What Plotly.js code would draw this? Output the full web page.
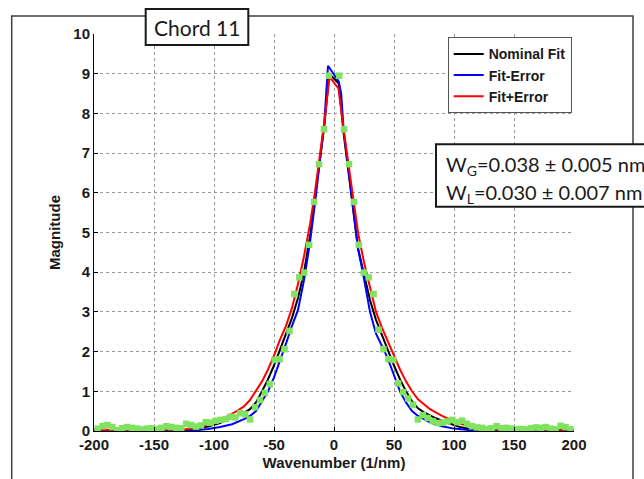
<!DOCTYPE html>
<html>
<head>
<meta charset="utf-8">
<script src="https://cdn.plot.ly/plotly-3.0.1.min.js"></script>
<style>html,body{margin:0;padding:0;background:#fff;}#chart{width:644px;height:479px;}</style>
</head>
<body>
<div id="chart"></div>
<script>
// Nominal fit (black)
const nomX = [-200,-160,-130,-115,-105,-95,-85,-75,-70,-65,-60,-55,-50,-45,-40,-35,-30,-25,-20,-16,-12,-8,-4,4,8,12,16,20,25,30,35,40,45,50,55,60,65,70,75,85,95,105,115,130,160,200];
const nomY = [0,0,0.01,0.05,0.11,0.2,0.32,0.46,0.55,0.72,1.0,1.3,1.65,2.05,2.45,2.85,3.35,4.0,4.9,5.8,6.8,7.7,9.0,8.75,7.5,6.5,5.5,4.6,3.95,3.3,2.8,2.4,2.05,1.65,1.3,1.0,0.75,0.57,0.47,0.32,0.2,0.1,0.04,0.01,0,0];
// Fit-Error (blue)
const lowX = [-200,-125,-115,-105,-95,-85,-75,-70,-65,-60,-55,-50,-45,-40,-35,-30,-25,-20,-16,-12,-8,-5,4,6,8,12,16,20,24,30,35,40,43,47,51,55,60,65,70,80,90,100,110,120,125,200];
const lowY = [0,0,0.02,0.05,0.1,0.17,0.3,0.38,0.5,0.75,1.0,1.35,1.75,2.2,2.65,3.05,3.8,4.75,5.7,6.75,7.8,9.2,8.8,8.5,7.6,6.6,5.6,4.6,4.0,3.0,2.45,2.15,1.95,1.65,1.3,1.0,0.72,0.5,0.38,0.22,0.12,0.06,0.03,0.01,0,0];
// Fit+Error (red)
const highX = [-200,-150,-125,-115,-110,-100,-90,-80,-75,-70,-65,-60,-55,-50,-45,-40,-35,-30,-25,-20,-16,-12,-8,-3.7,3.7,8,12,16,20,25,30,35,40,45,50,55,60,65,70,80,90,95,100,108,115,125,150,200];
const highY = [0.03,0.03,0.04,0.08,0.12,0.22,0.35,0.52,0.62,0.78,1.0,1.25,1.55,1.9,2.3,2.65,3.1,3.7,4.4,5.2,6.0,6.9,7.8,8.92,8.63,7.6,6.7,5.8,5.0,4.25,3.65,3.0,2.6,2.25,1.9,1.55,1.25,1.0,0.8,0.55,0.38,0.31,0.24,0.16,0.1,0.05,0.03,0.03];
// Measured data (green squares)
const dataX = [-197,-192.9,-188.8,-184.7,-180.6,-176.5,-172.4,-168.3,-164.2,-160.1,-156,-151.9,-147.8,-143.7,-139.6,-135.5,-131.4,-127.3,-123.2,-119.1,-115,-110.9,-106.8,-102.7,-98.6,-94.5,-90.4,-86.3,-82.2,-78.1,-74,-69.9,-65.8,-61.7,-57.6,-53.5,-49.4,-45.3,-41.2,-37.1,-33,-28.9,-24.8,-20.7,-16.6,-12.5,-8.4,-4.3,
  4.3,8.4,12.5,16.6,20.7,24.8,28.9,33,37.1,41.2,45.3,49.4,53.5,57.6,61.7,65.8,69.9,74,78.1,82.2,86.3,90.4,94.5,98.6,102.7,106.8,110.9,115,119.1,123.2,127.3,131.4,135.5,139.6,143.7,147.8,151.9,156,160.1,164.2,168.3,172.4,176.5,180.6,184.7,188.8,192.9,197];
const dataY = [0.06,0.12,0.15,0.10,0.02,0.07,0.10,0.08,0.06,0.04,0.06,0.07,0.05,0.08,0.12,0.10,0.08,0.07,0.18,0.15,0.11,0.14,0.22,0.21,0.26,0.28,0.30,0.36,0.34,0.45,0.42,0.29,0.60,0.78,0.96,1.18,1.79,1.81,2.06,2.52,3.45,3.87,3.99,4.69,5.77,6.72,7.60,8.95,
  8.95,7.60,6.72,5.77,4.69,3.99,3.87,3.45,2.55,2.06,1.81,1.79,1.20,0.98,0.82,0.66,0.29,0.40,0.33,0.25,0.20,0.21,0.24,0.28,0.22,0.26,0.18,0.12,0.09,0.08,0.05,0.07,0.12,0.07,0.08,0.06,0.04,0.05,0.04,0.07,0.09,0.08,0.10,0.06,0.04,0.13,0.10,0.04];

const seriesNames = ['Nominal Fit','Fit-Error','Fit+Error'];
const xTicks = [-200,-150,-100,-50,0,50,100,150,200];
const yTicks = [0,1,2,3,4,5,6,7,8,9,10];

const boldFont = {family:'Arial, "Liberation Sans", sans-serif', size:15, color:'#1a1a1a', weight:'bold'};

const traces = [
  {x:nomX, y:nomY, mode:'lines', name:seriesNames[0], line:{color:'#000000', width:2}},
  {x:lowX, y:lowY, mode:'lines', name:seriesNames[1], line:{color:'#0000ff', width:2}},
  {x:highX, y:highY, mode:'lines', name:seriesNames[2], line:{color:'#ff0000', width:2}},
  {x:dataX, y:dataY, mode:'markers', name:'Data', showlegend:false,
   marker:{symbol:'square', size:6.5, color:'#7fe35f', line:{width:0}}}
];

const px = v => (v - 94) / 480;
const py = v => (431 - v) / 397;

const layout = {
  width:644, height:479,
  margin:{l:94, r:70, t:34, b:48, pad:0},
  paper_bgcolor:'#ffffff', plot_bgcolor:'#ffffff',
  showlegend:true,
  legend:{x:px(447.7), y:py(37.3), xanchor:'left', yanchor:'top',
    bgcolor:'#ffffff', bordercolor:'#555555', borderwidth:1,
    font:{family:'Arial, "Liberation Sans", sans-serif', size:14, color:'#1a1a1a', weight:'bold'}},
  xaxis:{range:[-200,200], tickvals:xTicks, ticktext:xTicks.map(String), showline:true, linecolor:'#000', linewidth:1,
    ticks:'inside', ticklen:4, tickcolor:'#000', showgrid:true, gridcolor:'#9a9a9a', griddash:'dot', gridwidth:1,
    zeroline:false, tickfont:boldFont, fixedrange:true,
    title:{text:'Wavenumber (1/nm)', font:boldFont, standoff:5}},
  yaxis:{range:[0,10], tickvals:yTicks, ticktext:yTicks.map(String), showline:true, linecolor:'#000', linewidth:1,
    ticks:'inside', ticklen:4, tickcolor:'#000', showgrid:true, gridcolor:'#9a9a9a', griddash:'dot', gridwidth:1,
    zeroline:false, tickfont:boldFont, fixedrange:true,
    title:{text:'Magnitude', font:boldFont, standoff:9}},
  shapes:[
    {type:'rect', xref:'paper', yref:'paper', x0:px(11.7), x1:px(633), y0:py(490), y1:py(16),
     line:{color:'#404040', width:1.5}, fillcolor:'rgba(0,0,0,0)', layer:'below'},
    {type:'rect', xref:'paper', yref:'paper', x0:px(145.7), x1:px(248.3), y0:py(45), y1:py(9),
     line:{color:'#1a1a1a', width:2}, fillcolor:'#ffffff', layer:'above'},
    {type:'rect', xref:'paper', yref:'paper', x0:px(436), x1:px(700), y0:py(206.7), y1:py(144.3),
     line:{color:'#1a1a1a', width:2}, fillcolor:'#ffffff', layer:'above'}
  ],
  annotations:[
    {xref:'paper', yref:'paper', x:px(196.5), y:py(27.5), xanchor:'center', yanchor:'middle', showarrow:false,
     text:'Chord 11', font:{family:'Lato, "Open Sans", sans-serif', size:21, color:'#1a1a1a'}},
    {xref:'paper', yref:'paper', x:px(444), y:py(165), xanchor:'left', yanchor:'middle', showarrow:false,
     text:'W<sub>G</sub>=0.038 ± 0.005 nm', font:{family:'Lato, "Open Sans", sans-serif', size:20, color:'#1a1a1a'}},
    {xref:'paper', yref:'paper', x:px(444), y:py(193.5), xanchor:'left', yanchor:'middle', showarrow:false,
     text:'W<sub>L</sub>=0.030 ± 0.007 nm', font:{family:'Lato, "Open Sans", sans-serif', size:20, color:'#1a1a1a'}}
  ]
};

Plotly.newPlot('chart', traces, layout, {displayModeBar:false, staticPlot:true});
</script>
</body>
</html>
